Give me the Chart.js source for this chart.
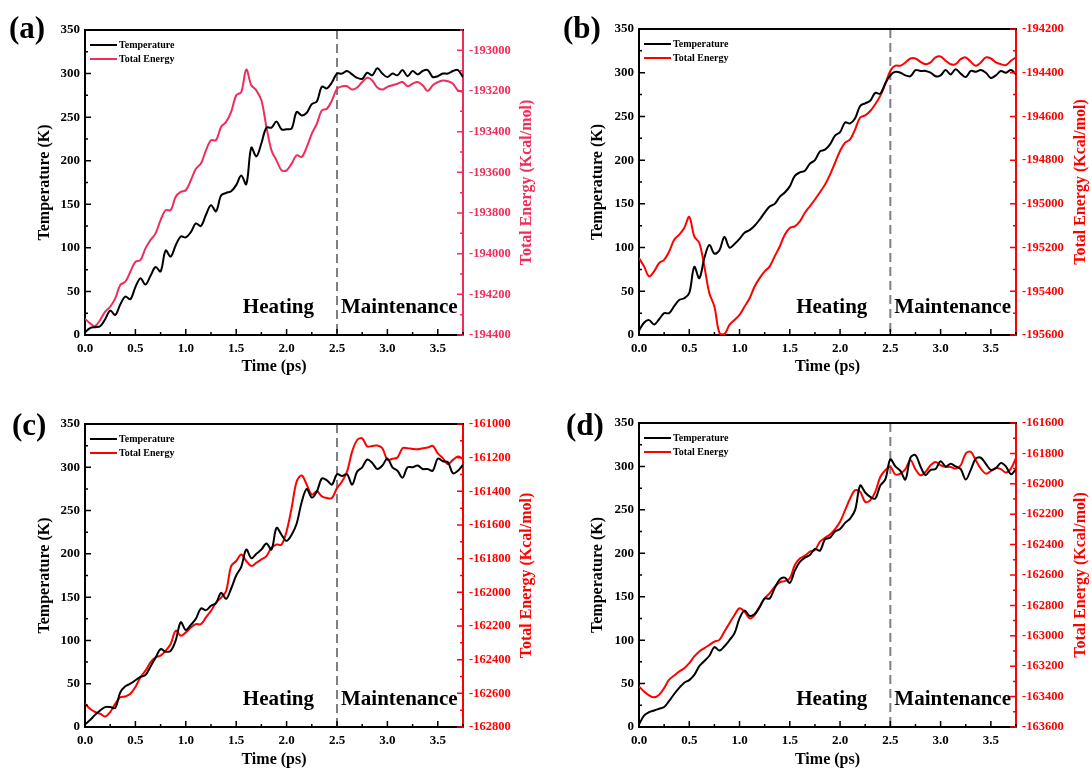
<!DOCTYPE html>
<html>
<head>
<meta charset="utf-8">
<script src="https://cdn.jsdelivr.net/npm/chart.js@4.4.1/dist/chart.umd.min.js"></script>
<style>
  body { margin: 0; background: #fff; width: 1092px; height: 771px; position: relative; overflow: hidden; font-family: 'Liberation Serif', 'DejaVu Serif', serif; }
  canvas { position: absolute; }
  .tag { position: absolute; font-weight: bold; font-size: 31px; line-height: 1; color: #000; }
</style>
</head>
<body>
<canvas id="chartA" width="546" height="385" style="left:0;top:0"></canvas>
<canvas id="chartB" width="546" height="385" style="left:546px;top:0"></canvas>
<canvas id="chartC" width="546" height="386" style="left:0;top:385px"></canvas>
<canvas id="chartD" width="546" height="386" style="left:546px;top:385px"></canvas>
<div class="tag" style="left:9px;top:12px">(a)</div>
<div class="tag" style="left:563px;top:12px">(b)</div>
<div class="tag" style="left:12px;top:409px">(c)</div>
<div class="tag" style="left:566px;top:409px">(d)</div>
<script>
// time axis (ps)
var timePs = [0, 0.05, 0.1, 0.15, 0.2, 0.25, 0.3, 0.35, 0.4, 0.45, 0.5, 0.55, 0.6, 0.65, 0.7, 0.75, 0.8, 0.85, 0.9, 0.95,
  1.0, 1.05, 1.1, 1.15, 1.2, 1.25, 1.3, 1.35, 1.4, 1.45, 1.5, 1.55, 1.6, 1.65, 1.7, 1.75, 1.8, 1.85, 1.9, 1.95,
  2.0, 2.05, 2.1, 2.15, 2.2, 2.25, 2.3, 2.35, 2.4, 2.45, 2.5, 2.55, 2.6, 2.65, 2.7, 2.75, 2.8, 2.85, 2.9, 2.95,
  3.0, 3.05, 3.1, 3.15, 3.2, 3.25, 3.3, 3.35, 3.4, 3.45, 3.5, 3.55, 3.6, 3.65, 3.7, 3.75];

var xTickLabels = ["0.0", "0.5", "1.0", "1.5", "2.0", "2.5", "3.0", "3.5"];
var seriesNames = ["Temperature", "Total Energy"];
var phaseNames = ["Heating", "Maintenance"];
var phaseSplit = 2.5;

// (a)
var tempA = [3, 8, 9, 10, 18, 28, 23, 35, 44, 41, 55, 65, 58, 68, 78, 73, 97, 90, 103, 113,
  112, 118, 128, 125, 138, 149, 142, 160, 163, 165, 172, 183, 173, 215, 205, 220, 238, 238, 245, 236,
  236, 237, 256, 252, 255, 265, 268, 285, 283, 290, 300, 300, 303, 299, 295, 294, 301, 298, 306, 300,
  296, 300, 298, 304, 297, 303, 299, 303, 304, 296, 297, 300, 300, 303, 304, 296];
var energyA = [-194320, -194343, -194356, -194326, -194285, -194261, -194220, -194154, -194138, -194089, -194040, -194032, -193974, -193933, -193900, -193835, -193786, -193786, -193720, -193696,
  -193688, -193639, -193582, -193557, -193492, -193442, -193442, -193377, -193352, -193303, -193221, -193205, -193095, -193172, -193197, -193246, -193377, -193492, -193541, -193590,
  -193590, -193557, -193516, -193524, -193475, -193410, -193361, -193295, -193287, -193246, -193189, -193177, -193177, -193193, -193183, -193156, -193135, -193148, -193183, -193193,
  -193180, -193172, -193164, -193156, -193177, -193164, -193156, -193172, -193200, -193172, -193156, -193148, -193152, -193164, -193197, -193205];

// (b)
var tempB = [5, 14, 17, 12, 18, 25, 25, 33, 40, 42, 48, 78, 65, 88, 103, 93, 97, 112, 100, 104,
  110, 117, 120, 125, 132, 140, 147, 150, 158, 163, 170, 182, 186, 188, 196, 200, 210, 212, 218, 228,
  232, 243, 242, 248, 262, 265, 268, 277, 276, 288, 297, 301, 300, 297, 296, 303, 302, 302, 300, 296,
  297, 303, 298, 304, 299, 295, 302, 301, 303, 300, 294, 297, 302, 300, 303, 298];
var energyB = [-195248, -195286, -195332, -195309, -195271, -195256, -195218, -195164, -195141, -195110, -195060, -195149, -195179, -195286, -195409, -195470, -195590, -195595, -195554, -195531,
  -195508, -195470, -195432, -195378, -195340, -195309, -195286, -195240, -195195, -195141, -195110, -195103, -195080, -195041, -195011, -194980, -194947, -194912, -194866, -194812,
  -194758, -194720, -194705, -194659, -194605, -194595, -194575, -194544, -194506, -194452, -194391, -194368, -194368, -194353, -194335, -194335, -194350, -194361, -194353, -194330,
  -194326, -194345, -194361, -194361, -194338, -194330, -194350, -194368, -194353, -194330, -194335, -194353, -194361, -194365, -194345, -194330];

// (c)
var tempC = [3, 8, 14, 19, 23, 23, 22, 40, 47, 50, 54, 58, 60, 70, 80, 90, 87, 88, 100, 121,
  112, 118, 125, 137, 135, 140, 143, 155, 148, 160, 175, 185, 205, 195, 200, 205, 212, 205, 230, 222,
  215, 222, 235, 260, 275, 265, 272, 287, 285, 280, 292, 290, 292, 280, 295, 300, 309, 305, 298, 302,
  310, 300, 296, 288, 300, 300, 302, 298, 298, 296, 310, 307, 306, 293, 296, 303];
var energyC = [-162662, -162692, -162711, -162721, -162737, -162711, -162662, -162623, -162619, -162603, -162563, -162504, -162465, -162416, -162386, -162376, -162347, -162307, -162228, -162258,
  -162238, -162209, -162189, -162189, -162149, -162110, -162061, -162031, -161992, -161844, -161814, -161775, -161814, -161844, -161824, -161804, -161785, -161735, -161716, -161716,
  -161637, -161499, -161341, -161306, -161361, -161420, -161400, -161430, -161440, -161440, -161381, -161341, -161282, -161164, -161095, -161085, -161134, -161130, -161128, -161144,
  -161213, -161207, -161199, -161144, -161144, -161148, -161150, -161144, -161140, -161130, -161174, -161203, -161239, -161213, -161193, -161207];

// (d)
var tempD = [3, 13, 17, 19, 21, 23, 30, 38, 45, 51, 54, 60, 70, 76, 82, 92, 88, 93, 100, 108,
  125, 134, 128, 130, 138, 148, 148, 160, 170, 172, 166, 180, 190, 195, 198, 205, 203, 216, 218, 225,
  228, 235, 240, 250, 278, 270, 265, 263, 278, 285, 308, 300, 295, 285, 310, 313, 300, 290, 296, 297,
  306, 300, 303, 300, 297, 285, 296, 309, 310, 303, 296, 298, 304, 300, 291, 297];
var energyD = [-163333, -163366, -163392, -163405, -163388, -163344, -163289, -163261, -163235, -163213, -163180, -163136, -163103, -163081, -163060, -163038, -163027, -162972, -162917, -162863,
  -162819, -162841, -162885, -162863, -162808, -162753, -162720, -162677, -162648, -162640, -162622, -162534, -162491, -162473, -162447, -162436, -162381, -162355, -162333, -162298,
  -162250, -162173, -162097, -162042, -162053, -162119, -162108, -162053, -161955, -161911, -161889, -161939, -161933, -161904, -161845, -161904, -161944, -161922, -161878, -161856,
  -161878, -161889, -161889, -161900, -161878, -161801, -161790, -161845, -161900, -161933, -161917, -161896, -161904, -161926, -161900, -161830];

var serif = "'Liberation Serif', 'DejaVu Serif', serif";

// inward ticks, frame top, legend, phase labels, right title
var panelDecor = {
  id: 'panelDecor',
  beforeDatasetsDraw: function (chart) {
    var ctx = chart.ctx, a = chart.chartArea;
    var px = chart.scales.x.getPixelForValue(phaseSplit);
    ctx.save();
    ctx.strokeStyle = '#808080';
    ctx.lineWidth = 2;
    ctx.setLineDash([9, 5]);
    ctx.beginPath();
    ctx.moveTo(px, a.top);
    ctx.lineTo(px, a.bottom);
    ctx.stroke();
    ctx.restore();
  },
  afterDraw: function (chart, args, o) {
    var ctx = chart.ctx, a = chart.chartArea;
    var sx = chart.scales.x, sl = chart.scales.yT, sr = chart.scales.yE;
    ctx.save();
    ctx.lineWidth = 2;

    // top frame
    ctx.strokeStyle = '#000';
    ctx.beginPath();
    ctx.moveTo(a.left, a.top);
    ctx.lineTo(a.right + 1, a.top);
    ctx.stroke();

    function ticksOf(scale) {
      var vals = scale.ticks.map(function (t) { return t.value; });
      var step = vals[1] - vals[0];
      var minors = [];
      vals.forEach(function (v) { if (v + step / 2 <= scale.max + 1e-9) minors.push(v + step / 2); });
      return { major: vals, minor: minors };
    }

    ctx.lineWidth = 1.5;
    var tx = ticksOf(sx);
    ctx.strokeStyle = '#000';
    ctx.beginPath();
    tx.major.forEach(function (v) { var p = sx.getPixelForValue(v); ctx.moveTo(p, a.bottom); ctx.lineTo(p, a.bottom - 6); });
    tx.minor.forEach(function (v) { var p = sx.getPixelForValue(v); ctx.moveTo(p, a.bottom); ctx.lineTo(p, a.bottom - 3); });
    var tl = ticksOf(sl);
    tl.major.forEach(function (v) { var p = sl.getPixelForValue(v); ctx.moveTo(a.left, p); ctx.lineTo(a.left + 6, p); });
    tl.minor.forEach(function (v) { var p = sl.getPixelForValue(v); ctx.moveTo(a.left, p); ctx.lineTo(a.left + 3, p); });
    ctx.stroke();

    var tr = ticksOf(sr);
    ctx.strokeStyle = o.red;
    ctx.beginPath();
    tr.major.forEach(function (v) { var p = sr.getPixelForValue(v); ctx.moveTo(a.right, p); ctx.lineTo(a.right - 6, p); });
    tr.minor.forEach(function (v) { var p = sr.getPixelForValue(v); ctx.moveTo(a.right, p); ctx.lineTo(a.right - 3, p); });
    ctx.stroke();

    // legend
    var lx = a.left + 5, ly = a.top + 15;
    chart.data.datasets.forEach(function (ds, i) {
      var y = ly + i * 14;
      ctx.strokeStyle = ds.borderColor;
      ctx.lineWidth = 2;
      ctx.beginPath();
      ctx.moveTo(lx, y);
      ctx.lineTo(lx + 27, y);
      ctx.stroke();
      ctx.fillStyle = '#000';
      ctx.font = 'bold 10px ' + serif;
      ctx.textAlign = 'left';
      ctx.textBaseline = 'middle';
      ctx.fillText(ds.label, lx + 29, y + 0.5);
    });

    // phase labels
    var sp = sx.getPixelForValue(phaseSplit);
    ctx.fillStyle = '#000';
    ctx.font = 'bold 21px ' + serif;
    ctx.textBaseline = 'middle';
    ctx.textAlign = 'right';
    ctx.fillText(phaseNames[0], sp - 23, a.bottom - 27);
    ctx.textAlign = 'left';
    ctx.fillText(phaseNames[1], sp + 4, a.bottom - 27);

    // right axis title (reads bottom to top)
    ctx.translate(o.rightTitleX, (a.top + a.bottom) / 2);
    ctx.rotate(-Math.PI / 2);
    ctx.fillStyle = o.red;
    ctx.font = 'bold 16px ' + serif;
    ctx.textAlign = 'center';
    ctx.textBaseline = 'middle';
    ctx.fillText('Total Energy (Kcal/mol)', 0, 0);
    ctx.restore();
  }
};

function buildPanel(cfg) {
  var toPts = function (arr) { return arr.map(function (v, i) { return { x: timePs[i], y: v }; }); };
  return new Chart(document.getElementById(cfg.id), {
    type: 'line',
    data: {
      datasets: [
        { label: seriesNames[0], data: toPts(cfg.temp), yAxisID: 'yT', borderColor: '#000', backgroundColor: '#000',
          borderWidth: 2, pointRadius: 0, tension: 0.35, fill: false },
        { label: seriesNames[1], data: toPts(cfg.energy), yAxisID: 'yE', borderColor: cfg.red, backgroundColor: cfg.red,
          borderWidth: 2, pointRadius: 0, tension: 0.35, fill: false }
      ]
    },
    options: {
      responsive: false,
      animation: false,
      layout: { padding: { top: cfg.padTop, left: 0, right: 0, bottom: 0 } },
      plugins: {
        legend: { display: false },
        tooltip: { enabled: false },
        panelDecor: { red: cfg.red, rightTitleX: cfg.rightTitleX }
      },
      scales: {
        x: {
          type: 'linear', min: 0, max: 3.75,
          grid: { display: false, drawTicks: false },
          border: { display: true, color: '#000', width: 2 },
          ticks: { stepSize: 0.5, includeBounds: false, padding: 6, color: '#000',
            font: { family: serif, size: 13, weight: 'bold' },
            callback: function (v) { return xTickLabels[Math.round(v / 0.5)]; } },
          title: { display: true, text: 'Time (ps)', color: '#000', font: { family: serif, size: 16, weight: 'bold' },
            padding: { top: 0, bottom: cfg.xTitlePad } },
          afterFit: function (s) { s.height = cfg.bottomH; }
        },
        yT: {
          position: 'left', min: 0, max: 350,
          grid: { display: false, drawTicks: false },
          border: { display: true, color: '#000', width: 2 },
          ticks: { stepSize: 50, padding: 5, color: '#000', font: { family: serif, size: 13, weight: 'bold' } },
          title: { display: true, text: 'Temperature (K)', color: '#000', font: { family: serif, size: 16, weight: 'bold' },
            padding: { top: cfg.yTitlePad, bottom: 0 } },
          afterFit: function (s) { s.width = cfg.leftW; }
        },
        yE: {
          position: 'right', min: cfg.eMin, max: cfg.eMax,
          grid: { display: false, drawTicks: false },
          border: { display: true, color: cfg.red, width: 2 },
          ticks: { stepSize: 200, includeBounds: false, padding: 6, color: cfg.red,
            font: { family: serif, size: 12.5, weight: 'bold' },
            callback: function (v) { return String(v); } },
          afterFit: function (s) { s.width = cfg.rightW; }
        }
      }
    },
    plugins: [panelDecor]
  });
}

buildPanel({ id: 'chartA', temp: tempA, energy: energyA, eMin: -194400, eMax: -192900, red: '#f02d5a',
  padTop: 30, bottomH: 50, leftW: 85, rightW: 83, yTitlePad: 35, xTitlePad: 9, rightTitleX: 527 });
buildPanel({ id: 'chartB', temp: tempB, energy: energyB, eMin: -195600, eMax: -194200, red: '#ff0000',
  padTop: 29, bottomH: 50, leftW: 93, rightW: 76, yTitlePad: 42, xTitlePad: 9, rightTitleX: 535 });
buildPanel({ id: 'chartC', temp: tempC, energy: energyC, eMin: -162800, eMax: -161000, red: '#ff0000',
  padTop: 39, bottomH: 44, leftW: 85, rightW: 83, yTitlePad: 35, xTitlePad: 2, rightTitleX: 527 });
buildPanel({ id: 'chartD', temp: tempD, energy: energyD, eMin: -163600, eMax: -161600, red: '#ff0000',
  padTop: 38, bottomH: 44, leftW: 93, rightW: 76, yTitlePad: 42, xTitlePad: 2, rightTitleX: 535 });
</script>
</body>
</html>
